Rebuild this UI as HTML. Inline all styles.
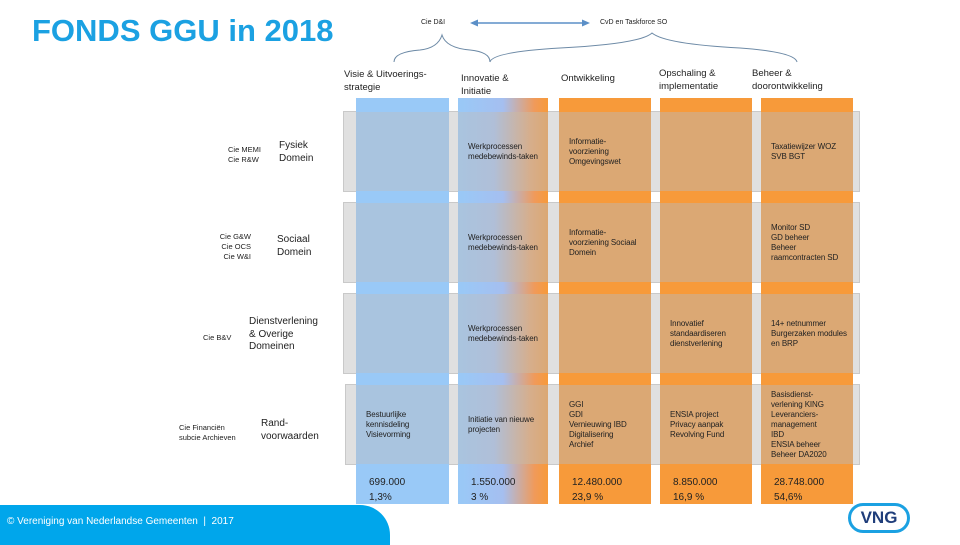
<!DOCTYPE html>
<html><head><meta charset="utf-8">
<style>
body{margin:0;width:960px;height:540px;overflow:hidden;background:#fff;font-family:"Liberation Sans",sans-serif;position:relative}
.a{position:absolute}
.t{position:absolute;font-size:8px;line-height:10px;color:#222;letter-spacing:-0.1px}
.h{position:absolute;font-size:9.5px;line-height:13px;color:#222}
.l{position:absolute;font-size:10px;line-height:12.5px;color:#222}
.s{position:absolute;font-size:7.5px;line-height:10px;color:#222}
.gray{position:absolute;left:343px;width:517px;background:#e0e0e0;border:1px solid #c9c9c9;box-sizing:border-box}
.amt{position:absolute;font-size:10px;line-height:15px;color:#222}
</style></head><body>
<div class="a" style="left:32px;top:13px;font-size:31px;font-weight:bold;color:#1ba1e2">FONDS GGU in 2018</div>

<svg class="a" style="left:0;top:0" width="960" height="100">
<line x1="474" y1="23" x2="586" y2="23" stroke="#5b8fc7" stroke-width="1.5"/>
<polygon points="470,23 478,19.5 478,26.5" fill="#5b8fc7"/>
<polygon points="590,23 582,19.5 582,26.5" fill="#5b8fc7"/>
<path d="M394,62 Q394,52 420,50 Q438,48 442,35 Q446,48 470,50 Q490,52 490,62" fill="none" stroke="#6d8aa6" stroke-width="1"/>
<path d="M490,62 Q492,52 560,48 Q640,44 652,33 Q665,44 740,48 Q795,52 797,62" fill="none" stroke="#6d8aa6" stroke-width="1"/>
</svg>
<div class="s" style="left:421px;top:18px;font-size:7px">Cie D&amp;I</div>
<div class="s" style="left:600px;top:18px;font-size:7px">CvD en Taskforce SO</div>

<div class="h" style="left:344px;top:68px">Visie &amp; Uitvoerings-<br>strategie</div>
<div class="h" style="left:461px;top:72px">Innovatie &amp;<br>Initiatie</div>
<div class="h" style="left:561px;top:72px">Ontwikkeling</div>
<div class="h" style="left:659px;top:67px">Opschaling &amp;<br>implementatie</div>
<div class="h" style="left:752px;top:67px">Beheer &amp;<br>doorontwikkeling</div>

<div id="grid"></div>

<div class="s" style="left:228px;top:145px">Cie MEMI<br>Cie R&amp;W</div>
<div class="l" style="left:279px;top:140px">Fysiek<br>Domein</div>
<div class="s" style="left:214px;top:232px;text-align:right;width:37px">Cie G&amp;W<br>Cie OCS<br>Cie W&amp;I</div>
<div class="l" style="left:277px;top:234px">Sociaal<br>Domein</div>
<div class="s" style="left:203px;top:333px">Cie B&amp;V</div>
<div class="l" style="left:249px;top:316px">Dienstverlening<br>&amp; Overige<br>Domeinen</div>
<div class="s" style="left:179px;top:423px">Cie Financiën<br>subcie Archieven</div>
<div class="l" style="left:261px;top:418px">Rand-<br>voorwaarden</div>

<div class="a" style="left:0;top:505px;width:390px;height:40px;background:#00a6eb;border-top-right-radius:30px"></div>
<div class="a" style="left:7px;top:516px;font-size:10px;color:#fff">© Vereniging van Nederlandse Gemeenten &nbsp;| &nbsp;2017</div>
<div class="a" style="left:848px;top:503px;width:62px;height:30px;border:3px solid #1ba1e2;border-radius:17px;box-sizing:border-box;text-align:center;font-weight:bold;font-size:17px;line-height:24px;color:#1f3d7a">VNG</div>

<script>
const g=document.getElementById('grid');
const cols=[356,458,559,660,761];const cw=[93,90,92,92,92];
const rows=[[111,192],[202,283],[293,374],[384,465]];
const types=['b','g','o','o','o'];
const cellTexts=[
 ['','Werkprocessen<br>medebewinds-taken','Informatie-<br>voorziening<br>Omgevingswet','','Taxatiewijzer WOZ<br>SVB BGT'],
 ['','Werkprocessen<br>medebewinds-taken','Informatie-<br>voorziening Sociaal<br>Domein','','Monitor SD<br>GD beheer<br>Beheer<br>raamcontracten SD'],
 ['','Werkprocessen<br>medebewinds-taken','','Innovatief<br>standaardiseren<br>dienstverlening','14+ netnummer<br>Burgerzaken modules<br>en BRP'],
 ['Bestuurlijke<br>kennisdeling<br>Visievorming','Initiatie van nieuwe<br>projecten','GGI<br>GDI<br>Vernieuwing IBD<br>Digitalisering<br>Archief','ENSIA project<br>Privacy aanpak<br>Revolving Fund','Basisdienst-<br>verlening KING<br>Leveranciers-<br>management<br>IBD<br>ENSIA beheer<br>Beheer DA2020']];
const amounts=['699.000','1.550.000','12.480.000','8.850.000','28.748.000'];
const pcts=['1,3%','3 %','23,9 %','16,9 %','54,6%'];
function bright(t){return t=='b'?'#99c9f7':t=='o'?'#f79a3a':'linear-gradient(90deg,#99c9f7 0%,#a5bff0 50%,#f09a5a 85%,#f79a3a 100%)';}
function muted(t){return t=='b'?'#a9c4df':t=='o'?'#dba874':'linear-gradient(90deg,#a9c4df 0%,#b0bfd8 40%,#d6ae8c 80%,#dba874 100%)';}
rows.forEach((r,i)=>{const d=document.createElement('div');d.className='gray';


d.style.top=r[0]+'px';d.style.height=(r[1]-r[0])+'px';if(i==3){d.style.left='345px';d.style.width='515px';}g.appendChild(d);});
cols.forEach((x,c)=>{
 const col=document.createElement('div');col.className='a';
 
 
 col.style.cssText=`left:${x}px;top:98px;width:${cw[c]}px;height:406px;background:${bright(types[c])}`;g.appendChild(col);
 rows.forEach((r,i)=>{const m=document.createElement('div');m.className='a';
  
  
  m.style.cssText=`left:${x}px;top:${r[0]+1}px;width:${cw[c]}px;height:${r[1]-r[0]-2}px;background:${muted(types[c])};display:flex;align-items:center`;
  const t=document.createElement('div');t.className='t';t.style.position='static';t.style.paddingLeft='10px';t.innerHTML=cellTexts[i][c];m.appendChild(t);g.appendChild(m);});
 const a=document.createElement('div');a.className='amt';
 
 
 a.style.left=(x+13)+'px';a.style.top='475px';a.innerHTML=amounts[c]+'<br>'+pcts[c];g.appendChild(a);
});
</script>
</body></html>
